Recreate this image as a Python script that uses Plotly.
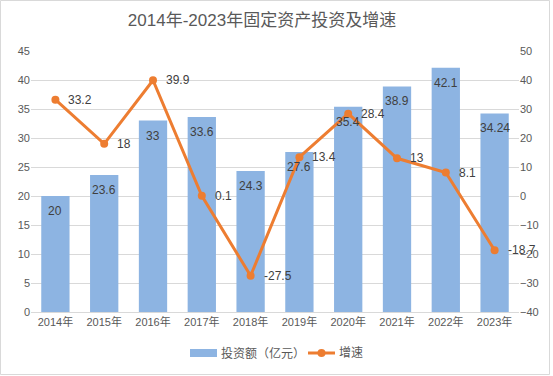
import plotly.graph_objects as go

years = ["2014年", "2015年", "2016年", "2017年", "2018年", "2019年", "2020年", "2021年", "2022年", "2023年"]
investment = [20, 23.6, 33, 33.6, 24.3, 27.6, 35.4, 38.9, 42.1, 34.24]
growth = [33.2, 18, 39.9, 0.1, -27.5, 13.4, 28.4, 13, 8.1, -18.7]
left_ticks = [0, 5, 10, 15, 20, 25, 30, 35, 40, 45]
right_ticks = [-40, -30, -20, -10, 0, 10, 20, 30, 40, 50]
bar_name = "投资额（亿元）"
line_name = "增速"

FONT = "Liberation Sans, Noto Sans CJK SC, sans-serif"
GRAY = "#595959"
LABEL = "#404040"
BLUE = "#8DB4E2"
ORANGE = "#ED7D31"

W, H = 553, 376
ml, mr, mt, mb = 31, 34, 51, 64
pw, ph = W - ml - mr, H - mt - mb


def px_x(x):
    return (x - ml) / pw


def px_y(y):
    return (H - mb - y) / ph


fig = go.Figure()
fig.add_trace(go.Bar(
    x=years, y=investment, name=bar_name,
    marker=dict(color=BLUE, line=dict(width=0)),
    showlegend=False,
))
fig.add_trace(go.Scatter(
    x=years, y=growth, name=line_name, yaxis="y2",
    mode="lines+markers",
    line=dict(color=ORANGE, width=3),
    marker=dict(color=ORANGE, size=8),
    showlegend=False, cliponaxis=False,
))

annotations = []
for yr, v in zip(years, investment):
    annotations.append(dict(x=yr, y=v, xref="x", yref="y", text=str(v), showarrow=False,
                            yanchor="middle", yshift=-15,
                            font=dict(size=12, color=LABEL, family=FONT)))
for yr, v in zip(years, growth):
    annotations.append(dict(x=yr, y=v, xref="x", yref="y2", text=str(v), showarrow=False,
                            xanchor="left", xshift=11, yanchor="middle",
                            font=dict(size=12, color=LABEL, family=FONT)))

# custom legend
annotations.append(dict(x=px_x(219), y=px_y(353), xref="paper", yref="paper", text=bar_name,
                        showarrow=False, xanchor="left", yanchor="middle",
                        font=dict(size=12, color=GRAY, family=FONT)))
annotations.append(dict(x=px_x(337), y=px_y(353), xref="paper", yref="paper", text=line_name,
                        showarrow=False, xanchor="left", yanchor="middle",
                        font=dict(size=12, color=GRAY, family=FONT)))

shapes = [
    dict(type="rect", xref="paper", yref="paper",
         x0=-(ml - 0.5) / pw, x1=1 + (mr - 3.5) / pw,
         y0=-(mb - 1.5) / ph, y1=1 + (mt - 0.5) / ph,
         line=dict(color="#D9D9D9", width=1), fillcolor="rgba(0,0,0,0)"),
    dict(type="rect", xref="paper", yref="paper",
         x0=px_x(190), x1=px_x(217), y0=px_y(357), y1=px_y(349),
         line=dict(width=0), fillcolor=BLUE),
    dict(type="line", xref="paper", yref="paper",
         x0=px_x(308), x1=px_x(335), y0=px_y(353), y1=px_y(353),
         line=dict(color=ORANGE, width=3)),
    dict(type="circle", xref="paper", yref="paper",
         x0=px_x(317.5), x1=px_x(325.5), y0=px_y(357), y1=px_y(349),
         line=dict(width=0), fillcolor=ORANGE),
]

fig.update_layout(
    width=W, height=H,
    margin=dict(l=ml, r=mr, t=mt, b=mb, autoexpand=False),
    paper_bgcolor="white", plot_bgcolor="white",
    font=dict(family=FONT, color=GRAY, size=11),
    title=dict(text="2014年-2023年固定资产投资及增速", xref="container", x=262 / W,
               xanchor="center", y=1 - 20 / H, yanchor="middle",
               font=dict(size=17, color=GRAY, family=FONT)),
    bargap=0.42,
    showlegend=False,
    xaxis=dict(range=[-0.5, len(years) - 0.5], autorange=False,
               showgrid=False, showline=True, linecolor="#D9D9D9", ticks="",
               automargin=False, tickfont=dict(size=11, color=GRAY)),
    yaxis=dict(range=[0, 45], tickvals=left_ticks, showgrid=True, gridcolor="#D9D9D9",
               zeroline=False, showline=False, ticks="", automargin=False,
               tickfont=dict(size=11, color=GRAY)),
    yaxis2=dict(range=[-40, 50], tickvals=right_ticks, overlaying="y", side="right",
                showgrid=False, zeroline=False, showline=False, ticks="", automargin=False,
                tickfont=dict(size=11, color=GRAY)),
    annotations=annotations,
    shapes=shapes,
)

fig.write_html("out.html", config={"displayModeBar": False},
               post_script="document.body.style.margin='0';document.body.style.overflow='hidden';")
